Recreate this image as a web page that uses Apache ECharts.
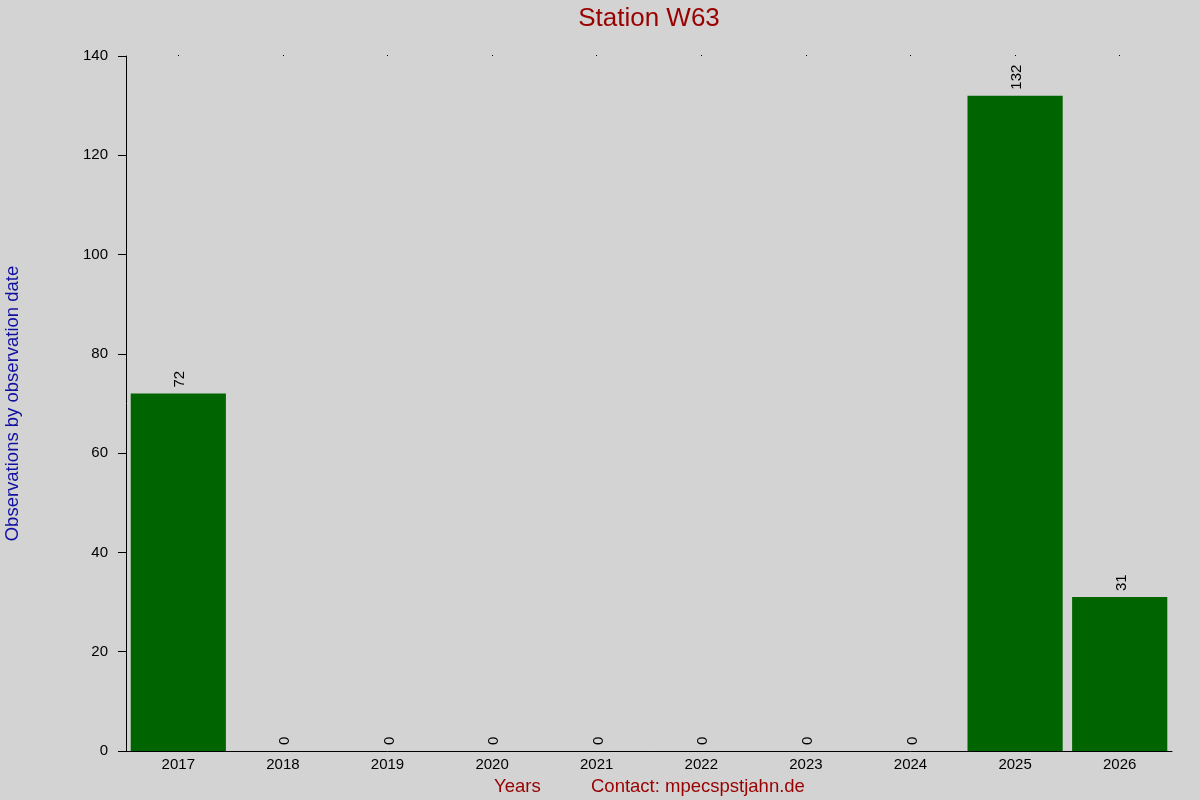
<!DOCTYPE html>
<html>
<head>
<meta charset="utf-8">
<script src="https://cdn.jsdelivr.net/npm/echarts@6/dist/echarts.min.js"></script>
<style>
  html, body { margin: 0; padding: 0; background: #d3d3d3; }
  #chart { width: 1200px; height: 800px; }
</style>
</head>
<body>
<div id="chart"></div>
<script>
// 数据
const years = ['2017', '2018', '2019', '2020', '2021', '2022', '2023', '2024', '2025', '2026'];
const observations = [72, 0, 0, 0, 0, 0, 0, 0, 132, 31];
const yTicks = [0, 20, 40, 60, 80, 100, 120, 140];

const chart = echarts.init(document.getElementById('chart'));
const font = 'Liberation Sans, Arial, sans-serif';

const option = {
    backgroundColor: '#d3d3d3',
    animation: false,
    grid: { left: 126, right: 28, top: 56, bottom: 49, containLabel: false, outerBoundsMode: 'none' },
    xAxis: [{
        type: 'category',
        data: years,
        axisLine: { lineStyle: { color: '#000', width: 1 } },
        axisTick: { show: false },
        axisLabel: { color: '#000', fontSize: 15, fontFamily: font, margin: 6 }
    }, {
        // 顶部的小点
        type: 'category',
        position: 'top',
        data: years,
        axisLine: { show: false },
        axisTick: { show: true, alignWithLabel: true, length: 1, lineStyle: { color: '#000' } },
        axisLabel: { show: false }
    }],
    yAxis: {
        type: 'value',
        min: yTicks[0],
        max: yTicks[yTicks.length - 1],
        interval: 20,
        name: 'Observations by observation date',
        nameLocation: 'middle',
        nameGap: 104,
        nameTextStyle: { color: '#1010a0', fontSize: 18.5, fontFamily: font },
        axisLine: { show: true, lineStyle: { color: '#000', width: 1 } },
        axisTick: { show: true, length: 8, lineStyle: { color: '#000' } },
        axisLabel: { color: '#000', fontSize: 15, fontFamily: font, margin: 18 },
        splitLine: { show: false }
    },
    graphic: [
        {
            type: 'text', x: 649, y: 6,
            style: { text: 'Station W63', fill: '#990000', font: '26px ' + font, textAlign: 'center' }
        },
        {
            type: 'text', left: 494, top: 777,
            style: { text: 'Years', fill: '#990000', font: '18.5px ' + font }
        },
        {
            type: 'text', left: 591, top: 777,
            style: { text: 'Contact: mpecspstjahn.de', fill: '#990000', font: '18.5px ' + font }
        }
    ],
    series: [{
        type: 'bar',
        data: observations,
        barCategoryGap: '9%',
        itemStyle: { color: '#006400' },
        label: {
            show: true,
            position: 'top',
            rotate: 90,
            align: 'left',
            verticalAlign: 'middle',
            distance: 6,
            offset: [0, 2],
            color: '#000',
            fontSize: 15,
            fontFamily: font
        }
    }]
};

chart.setOption(option);
</script>
</body>
</html>
